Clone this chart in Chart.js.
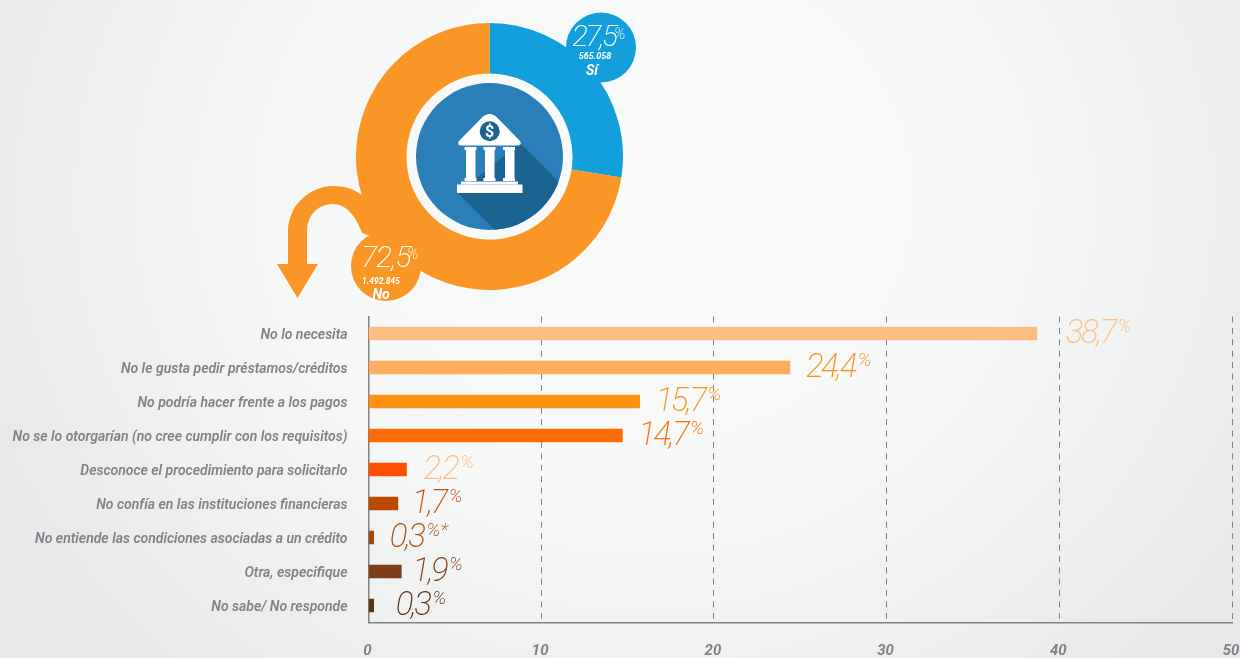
<!DOCTYPE html>
<html lang="es">
<head>
<meta charset="utf-8">
<title>Crédito</title>
<script src="https://cdn.jsdelivr.net/npm/chart.js@4"></script>
<style>
html,body{margin:0;padding:0;width:1240px;height:658px;overflow:hidden}
body{background:radial-gradient(ellipse 700px 640px at 52% 30%,#f9fafa 0,#f6f7f7 50%,#e8e9ea 100%);position:relative}
#bars{position:absolute;left:0;top:0;width:1240px;height:658px}
#donut{position:absolute;left:356px;top:22.5px;width:267px;height:267px}
#art{position:absolute;left:0;top:0;pointer-events:none}
</style>
</head>
<body>
<canvas id="bars" width="1240" height="658"></canvas>
<canvas id="donut" width="267" height="267"></canvas>
<svg id="art" width="1240" height="658" viewBox="0 0 1240 658" xmlns="http://www.w3.org/2000/svg">
  <defs><clipPath id="disc"><circle cx="489.5" cy="156.5" r="73.5"/></clipPath></defs>
  <path d="M288 264V232C288 205 310 186 333 186C345 186 353 189 361 194.3L395 194L395 245L362 233C356 216 346 204 333 204C318 204 307 215 307 232V264H318L297.5 298L277 264Z" fill="#f99625"/>
  <circle cx="489.5" cy="156.5" r="73.5" fill="#2a7fb8"/>
  <polygon points="520,143 590,213 530,266 458,193" fill="#1c6490" clip-path="url(#disc)"/>
  <path d="M489.7 114C492 114 494 115 496 116.5L519 140C522 143 521 145.5 518 145.5H461C458 145.5 457 143 460 140L483 116.5C485 115 487 114 489.7 114Z" fill="#fff"/>
  <circle cx="489.7" cy="131.3" r="10" fill="#1c6490"/>
  <text x="489.7" y="137" text-anchor="middle" font-family="Roboto" font-weight="700" font-size="16" fill="#fff">$</text>
  <g fill="#fff">
    <rect x="464.5" y="147" width="12" height="3"/><rect x="466" y="150" width="9.5" height="28"/><rect x="464.5" y="178" width="12" height="3"/>
    <rect x="483.5" y="147" width="12" height="3"/><rect x="485" y="150" width="9.5" height="28"/><rect x="483.5" y="178" width="12" height="3"/>
    <rect x="503" y="147" width="12" height="3"/><rect x="505" y="150" width="9.5" height="28"/><rect x="503" y="178" width="12" height="3"/>
    <rect x="461" y="181.5" width="57" height="3"/>
    <rect x="457" y="184.5" width="65.5" height="8.5"/>
  </g>
  <circle cx="601" cy="47.5" r="35" fill="#129fdc"/>
  <circle cx="386" cy="266" r="35" fill="#f99625"/>
  <g id="bubbleText" fill="#fff" font-family="Roboto" font-style="italic"></g>
</svg>
<script>
// Doughnut data
const sliceNames = ['Sí', 'No'];
const sliceValues = [27.5, 72.5];
const sliceCounts = ['565.058', '1.492.845'];
const sliceColors = ['#129fdc', '#f99625'];

// Bar data
const categories = [
  'No lo necesita',
  'No le gusta pedir préstamos/créditos',
  'No podría hacer frente a los pagos',
  'No se lo otorgarían (no cree cumplir con los requisitos)',
  'Desconoce el procedimiento para solicitarlo',
  'No confía en las instituciones financieras',
  'No entiende las condiciones asociadas a un crédito',
  'Otra, especifique',
  'No sabe/ No responde'
];
const barValues = [38.7, 24.4, 15.7, 14.7, 2.2, 1.7, 0.3, 1.9, 0.3];
const valueSuffixes = ['%', '%', '%', '%', '%', '%', '%*', '%', '%'];
const barColors = ['#fdbd80', '#ffad5f', '#ff8f12', '#ff6b00', '#ff5000', '#bb4a00', '#a34a06', '#7d3f1a', '#5c3213'];
const valueColors = ['#fdbd80', '#f8901a', '#f8901a', '#ff6b00', '#fdbd80', '#c0500f', '#a5500f', '#7d3f1a', '#5c3213'];
const xTicks = [0, 10, 20, 30, 40, 50];

const labelGaps = [29, 16, 16, 16, 17, 14, 16, 11, 22];
const GREY = '#808285';

const valueLabels = {
  id: 'valueLabels',
  afterDatasetsDraw(chart) {
    const { ctx, scales: { x, y } } = chart;
    ctx.save();
    ctx.textBaseline = 'alphabetic';
    barValues.forEach((v, i) => {
      const px = x.getPixelForValue(v) + labelGaps[i];
      const py = y.getPixelForValue(i) + 9;
      ctx.fillStyle = valueColors[i];
      ctx.font = 'italic 200 33px Roboto';
      ctx.letterSpacing = '-2.5px';
      const s = v.toFixed(1).replace('.', ',');
      ctx.fillText(s, px, py);
      const w = ctx.measureText(s).width;
      ctx.font = 'italic 200 19px Roboto';
      ctx.letterSpacing = '0px';
      ctx.fillText(valueSuffixes[i], px + w + 3, py - 11);
    });
    ctx.restore();
  }
};

new Chart(document.getElementById('bars'), {
  type: 'bar',
  data: {
    labels: categories,
    datasets: [{ data: barValues, backgroundColor: barColors, barThickness: 13, borderWidth: 0 }]
  },
  options: {
    indexAxis: 'y',
    responsive: false,
    animation: false,
    layout: { padding: { top: 316.5, right: 8, left: 0, bottom: 0 } },
    plugins: { legend: { display: false }, tooltip: { enabled: false } },
    scales: {
      x: {
        min: 0, max: 50,
        afterBuildTicks(s) { s.ticks = xTicks.map(value => ({ value })); },
        afterFit(s) { s.height = 35.5; s.paddingRight = 0; s.paddingLeft = 0; },
        grid: { color: GREY, lineWidth: 1, drawTicks: false },
        border: { color: GREY, width: 1.5, dash: [6, 5.4] },
        ticks: { color: GREY, padding: 20, labelOffset: -1, maxRotation: 0, font: { family: 'Roboto', size: 15, style: 'italic', weight: '700' } }
      },
      y: {
        afterFit(s) { s.width = 368.5; },
        grid: { display: false, drawTicks: false },
        border: { color: GREY, width: 1.5 },
        ticks: { color: GREY, padding: 21, labelOffset: 2, autoSkip: false, font: { family: 'Roboto', size: 14, style: 'italic', weight: '600' } }
      }
    }
  },
  plugins: [valueLabels]
});

new Chart(document.getElementById('donut'), {
  type: 'doughnut',
  data: {
    labels: sliceNames,
    datasets: [{ data: sliceValues, backgroundColor: sliceColors, borderWidth: 0 }]
  },
  options: {
    responsive: false,
    animation: false,
    cutout: '62.2%',
    layout: { padding: 0 },
    plugins: { legend: { display: false }, tooltip: { enabled: false } }
  }
});

// Bubble captions, taken from the slice arrays
const ns = 'http://www.w3.org/2000/svg';
const bubbleText = document.getElementById('bubbleText');
function addText(str, x, y, size, weight, anchor) {
  const t = document.createElementNS(ns, 'text');
  t.textContent = str;
  t.setAttribute('x', x); t.setAttribute('y', y);
  t.setAttribute('font-size', size); t.setAttribute('font-weight', weight);
  t.setAttribute('text-anchor', anchor || 'middle');
  bubbleText.appendChild(t);
  return t;
}
const fmt = v => v.toFixed(1).replace('.', ',');
addText(fmt(sliceValues[0]), 572, 46, 30, 200, 'start').setAttribute('letter-spacing', '-2.5');
addText('%', 614, 39, 16, 200, 'start');
addText(sliceCounts[0], 595, 59, 9, 700);
addText(sliceNames[0], 592, 75, 14, 700);
addText(fmt(sliceValues[1]), 361, 267, 30, 200, 'start').setAttribute('letter-spacing', '-1');
addText('%', 407, 259, 16, 200, 'start');
addText(sliceCounts[1], 381, 284, 8.5, 700);
addText(sliceNames[1], 381, 299, 14, 700);
</script>
</body>
</html>
